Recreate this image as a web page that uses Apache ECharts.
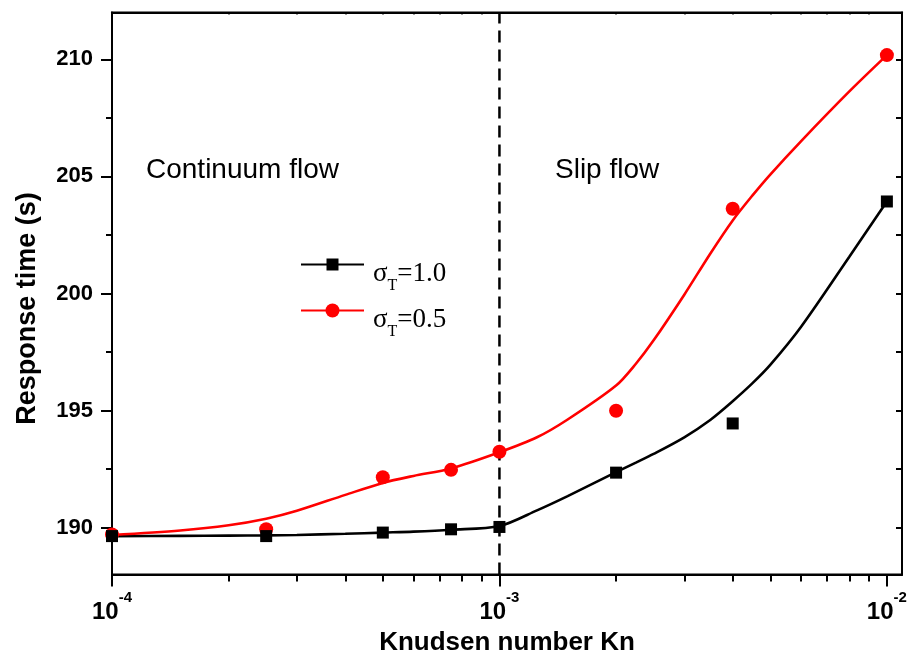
<!DOCTYPE html>
<html>
<head>
<meta charset="utf-8">
<script src="https://cdn.jsdelivr.net/npm/echarts@6/dist/echarts.min.js"></script>
<style>
html,body{margin:0;padding:0;background:#fff;}
#c{width:913px;height:654px;}
</style>
</head>
<body>
<div id="c"></div>
<script>
// Knudsen numbers of the measured points
const knPoints = [1e-4, 2.5e-4, 5e-4, 7.5e-4, 1e-3, 2e-3, 4e-3, 1e-2];
// measured response times (s)
const points10 = [189.64, 189.64, 189.79, 189.93, 190.03, 192.35, 194.45, 203.93];
const points05 = [189.71, 189.93, 192.15, 192.47, 193.24, 194.99, 203.62, 210.18];
// fitted curves at these Knudsen numbers
const knCurve = [1e-4, 1.5e-4, 2e-4, 2.5e-4, 3e-4, 4e-4, 5e-4, 6e-4, 7.5e-4, 1e-3, 1.25e-3, 1.5e-3, 2e-3, 2.25e-3, 2.5e-3, 3e-3, 3.5e-3, 4e-3, 4.5e-3, 5e-3, 6e-3, 8e-3, 1e-2];
const curve10 = [189.64, 189.65, 189.66, 189.67, 189.69, 189.74, 189.79, 189.83, 189.91, 190.07, 190.74, 191.35, 192.37, 192.78, 193.15, 193.86, 194.60, 195.40, 196.17, 196.95, 198.57, 201.57, 203.93];
const curve05 = [189.69, 189.88, 190.10, 190.38, 190.72, 191.40, 191.91, 192.21, 192.53, 193.22, 193.86, 194.62, 196.07, 197.00, 198.00, 199.95, 201.70, 203.12, 204.19, 205.08, 206.50, 208.63, 210.18];
// series names
const seriesNames = ['σT=1.0', 'σT=0.5'];
// ticks
const xMajorTicks = [1e-4, 1e-3, 1e-2];
const xMinorTicks = [2e-4, 3e-4, 4e-4, 5e-4, 6e-4, 7e-4, 8e-4, 9e-4, 2e-3, 3e-3, 4e-3, 5e-3, 6e-3, 7e-3, 8e-3, 9e-3];
const yMajorTicks = [190, 195, 200, 205, 210];
const yMinorTicks = [192.5, 197.5, 202.5, 207.5];
const yAllTicks = [190, 192.5, 195, 197.5, 200, 202.5, 205, 207.5, 210];
const dividerKn = 1e-3;
const regionLabels = ['Continuum flow', 'Slip flow'];

const X_MIN = 1e-4, X_MAX = 0.01094, Y_MIN = 188, Y_MAX = 212;
const SANS = '"Liberation Sans", Arial, sans-serif';
const SERIF = '"Liberation Serif", "Times New Roman", serif';

const chart = echarts.init(document.getElementById('c'), null, {renderer: 'canvas'});

function pairs(xs, ys) { return xs.map((x, i) => [x, ys[i]]); }

function legendText(name) {
  const rest = name.replace('σT', '');
  return '{a|σ}{t|T}{s|' + rest + '}';
}
const legendRich = {
  a: {fontFamily: SERIF, fontSize: 27, color: '#000', lineHeight: 27, padding: [9, 0, 0, 4], verticalAlign: 'top'},
  s: {fontFamily: SERIF, fontSize: 27, color: '#000', lineHeight: 27, padding: [9, 0, 0, 0], verticalAlign: 'top'},
  t: {fontFamily: SERIF, fontSize: 16, color: '#000', lineHeight: 16, padding: [27, 0, 0, 0], verticalAlign: 'top'}
};

const option = {
  backgroundColor: '#fff',
  animation: false,
  grid: {left: 112, top: 12.5, width: 790, height: 562, show: true, borderColor: '#000', borderWidth: 2,
         backgroundColor: 'transparent', containLabel: false, outerBoundsMode: 'none'},
  legend: [
    {data: [seriesNames[0]], left: 300, top: 251, padding: 0, itemWidth: 63, itemHeight: 15, itemGap: 0,
     formatter: legendText, textStyle: {rich: legendRich}, selectedMode: false},
    {data: [seriesNames[1]], left: 300, top: 297, padding: 0, itemWidth: 63, itemHeight: 17.5, itemGap: 0,
     formatter: legendText, textStyle: {rich: legendRich}, selectedMode: false}
  ],
  xAxis: [
    {
      type: 'log', logBase: 10, min: X_MIN, max: X_MAX, position: 'bottom',
      name: 'Knudsen number Kn', nameLocation: 'middle', nameGap: 46,
      nameTextStyle: {fontFamily: SANS, fontWeight: 'bold', fontSize: 26, color: '#000'},
      axisLine: {show: true, lineStyle: {color: '#000', width: 2}},
      axisTick: {show: true, inside: false, length: 12, lineStyle: {color: '#000', width: 2}, customValues: xMajorTicks},
      minorTick: {show: false},
      splitLine: {show: false},
      axisLabel: {
        show: true, margin: 16, customValues: xMajorTicks,
        formatter: function (v) { const e = Math.round(Math.log10(v)); return '{b|10}{p|' + e + '}'; },
        rich: {
          b: {fontFamily: SANS, fontWeight: 'bold', fontSize: 24, color: '#000', lineHeight: 24, padding: [10, 0, 0, 0], verticalAlign: 'top'},
          p: {fontFamily: SANS, fontWeight: 'bold', fontSize: 15, color: '#000', lineHeight: 15, verticalAlign: 'top'}
        }
      }
    },
    {
      type: 'log', logBase: 10, min: X_MIN, max: X_MAX, position: 'bottom',
      axisLine: {show: false},
      axisTick: {show: true, inside: false, length: 7, lineStyle: {color: '#000', width: 2}, customValues: xMinorTicks},
      axisLabel: {show: false}, splitLine: {show: false}
    },
    {
      type: 'log', logBase: 10, min: X_MIN, max: X_MAX, position: 'top',
      axisLine: {show: true, lineStyle: {color: '#000', width: 2}},
      axisTick: {show: true, inside: true, length: 2, lineStyle: {color: '#000', width: 1.5}, customValues: xMinorTicks},
      axisLabel: {show: false}, splitLine: {show: false}
    }
  ],
  yAxis: [
    {
      type: 'value', min: Y_MIN, max: Y_MAX, position: 'left',
      name: 'Response time (s)', nameLocation: 'middle', nameGap: 71,
      nameTextStyle: {fontFamily: SANS, fontWeight: 'bold', fontSize: 27, color: '#000', padding: [0, 30, 0, 0]},
      axisLine: {show: true, lineStyle: {color: '#000', width: 2}},
      axisTick: {show: true, inside: false, length: 11, lineStyle: {color: '#000', width: 2}, customValues: yMajorTicks},
      axisLabel: {show: true, margin: 19, customValues: yMajorTicks, fontFamily: SANS, fontWeight: 'bold', fontSize: 22, color: '#000'},
      splitLine: {show: false}
    },
    {
      type: 'value', min: Y_MIN, max: Y_MAX, position: 'left',
      axisLine: {show: false},
      axisTick: {show: true, inside: false, length: 6, lineStyle: {color: '#000', width: 2}, customValues: yMinorTicks},
      axisLabel: {show: false}, splitLine: {show: false}
    },
    {
      type: 'value', min: Y_MIN, max: Y_MAX, position: 'right',
      axisLine: {show: true, lineStyle: {color: '#000', width: 2}},
      axisTick: {show: true, inside: true, length: 6, lineStyle: {color: '#000', width: 2}, customValues: yAllTicks},
      axisLabel: {show: false}, splitLine: {show: false}
    }
  ],
  series: [
    {
      name: 'divider', type: 'line', symbol: 'none', silent: true,
      data: [[dividerKn, Y_MIN], [dividerKn, Y_MAX]],
      lineStyle: {color: '#000', width: 2.5, type: [12, 7]}, z: 1
    },
    {
      name: seriesNames[0], type: 'line', smooth: 0.3, symbol: 'rect', showSymbol: false,
      data: pairs(knCurve, curve10), silent: true,
      lineStyle: {color: '#000', width: 2.6}, itemStyle: {color: '#000'}, z: 2
    },
    {
      name: seriesNames[1], type: 'line', smooth: 0.3, symbol: 'circle', showSymbol: false,
      data: pairs(knCurve, curve05), silent: true,
      lineStyle: {color: '#ff0000', width: 2.6}, itemStyle: {color: '#ff0000'}, z: 2
    },
    {
      name: 'pts10', type: 'scatter', symbol: 'rect', symbolSize: 12, clip: false,
      data: pairs(knPoints, points10), itemStyle: {color: '#000', opacity: 1}, z: 4, silent: true
    },
    {
      name: 'pts05', type: 'scatter', symbol: 'circle', symbolSize: 14, clip: false,
      data: pairs(knPoints, points05), itemStyle: {color: '#ff0000', opacity: 1}, z: 3, silent: true
    }
  ],
  graphic: [
    {type: 'text', x: 146, y: 170, silent: true,
     style: {text: regionLabels[0], fontFamily: SANS, fontSize: 28, fill: '#000', verticalAlign: 'middle'}},
    {type: 'text', x: 555, y: 170, silent: true,
     style: {text: regionLabels[1], fontFamily: SANS, fontSize: 28, fill: '#000', verticalAlign: 'middle'}}
  ]
};
chart.setOption(option);
</script>
</body>
</html>
